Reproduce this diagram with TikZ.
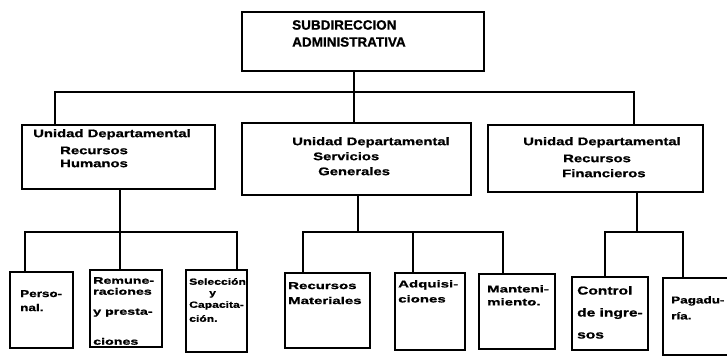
\documentclass[tikz,border=0pt]{standalone}
\usepackage{fontspec}
\setmainfont{Liberation Sans}[FakeBold=1]
\newfontfamily\wfont[FakeStretch=1.35,FakeBold=1]{Liberation Sans}
\newfontfamily\vfont[FakeStretch=1.5,FakeBold=1]{Liberation Sans}
\begin{document}
\begin{tikzpicture}[x=1pt,y=-1pt,
  box/.style={draw, line width=2.4pt, inner sep=0pt},
  conn/.style={draw, line width=2.4pt, line cap=rect},
  txt/.style={inner sep=0pt, align=left, anchor=north west},
  ttop/.style={txt, font=\bfseries\fontsize{13.5}{17}\selectfont},
  tmid/.style={txt, font=\wfont\bfseries\fontsize{11}{15}\selectfont},
  tlow/.style={txt, font=\wfont\bfseries\fontsize{10}{14}\selectfont},
  twide/.style={txt, font=\vfont\bfseries\fontsize{10}{15}\selectfont}]
\useasboundingbox (0,0) rectangle (727,363);
\fill[white] (0,0) rectangle (727,363);

% boxes
\node[box, minimum width=242pt, minimum height=59pt] (top) at (363,41.5) {};
\node[box, minimum width=193pt, minimum height=64pt] (rh) at (118.5,157) {};
\node[box, minimum width=229pt, minimum height=72pt] (sg) at (356.5,159) {};
\node[box, minimum width=215pt, minimum height=67pt] (rf) at (595.5,158.5) {};

\node[box, minimum width=63pt, minimum height=76pt] (per) at (41.5,310) {};
\node[box, minimum width=72pt, minimum height=77pt] (rem) at (126,308.5) {};
\node[box, minimum width=61pt, minimum height=82pt] (sel) at (216.5,311) {};
\node[box, minimum width=85pt, minimum height=75pt] (rm) at (327.5,310.5) {};
\node[box, minimum width=70pt, minimum height=77pt] (adq) at (430,311.5) {};
\node[box, minimum width=76pt, minimum height=75pt] (man) at (517,311.5) {};
\node[box, minimum width=76pt, minimum height=73pt] (con) at (610,313.5) {};
\node[box, minimum width=72pt, minimum height=77pt] (pag) at (699,316.5) {};

% texts
\node[ttop] (ttopt) at (292,20) {SUBDIRECCION\\ADMINISTRATIVA};
\node[tmid] (trh) at (33,129) {Unidad Departamental\\[2pt]\hspace*{27pt}Recursos\\[-2pt]\hspace*{27pt}Humanos};
\node[tmid] (tsg) at (292,137) {Unidad Departamental\\\hspace*{21pt}Servicios\\\hspace*{26pt}Generales};
\node[tmid] (trf) at (523,137) {Unidad Departamental\\[2pt]\hspace*{40pt}Recursos\\\hspace*{39pt}Financieros};

\node[tlow] (tper) at (20,290) {Perso-\\nal.};
\node[twide, font=\vfont\bfseries\fontsize{9.5}{11}\selectfont] (trem) at (93,277) {Remune-\\raciones\\[9pt]y presta-\\[19pt]ciones};
\node[tlow, font=\wfont\bfseries\fontsize{9}{11}\selectfont] (tsel) at (189,278) {Selección\\\hspace*{20pt}y\\[1pt]Capacita-\\[3pt]ción.};
\node[twide] (trm) at (288,282) {Recursos\\Materiales};
\node[twide] (tadq) at (398,280) {Adquisi-\\ciones};
\node[twide, font=\vfont\bfseries\fontsize{10}{13}\selectfont] (tman) at (487,285) {Manteni-\\miento.};
\node[tlow, font=\wfont\bfseries\fontsize{11.5}{22}\selectfont] (tcon) at (577,286) {Control\\de ingre-\\sos};
\node[tlow, font=\wfont\bfseries\fontsize{10}{16}\selectfont] (tpag) at (671,296) {Pagadu-\\ría.};

% level 1 -> level 2
\coordinate (busC) at (354,92);
\coordinate (busL) at (55,92);
\coordinate (busR) at (634,92);
\path[conn] (top.south -| busC) -- (sg.north -| busC);
\path[conn] (busL |- rh.north) -- (busL) -- (busR) -- (busR |- rf.north);

% RH -> level 3
\coordinate (a1) at (25,232);
\coordinate (a2) at (120,232);
\coordinate (a3) at (237,232);
\path[conn] (a2 |- rh.south) -- (a2 |- rem.north);
\path[conn] (a1 |- per.north) -- (a1) -- (a3) -- (a3 |- sel.north);

% SG -> level 3
\coordinate (s0) at (358,232);
\coordinate (s1) at (303,232);
\coordinate (s2) at (413,232);
\coordinate (s3) at (503,232);
\path[conn] (s0 |- sg.south) -- (s0);
\path[conn] (s1 |- rm.north) -- (s1) -- (s3) -- (s3 |- man.north);
\path[conn] (s2) -- (s2 |- adq.north);

% RF -> level 3
\coordinate (f0) at (637,232);
\coordinate (f1) at (605,232);
\coordinate (f2) at (683,232);
\path[conn] (f0 |- rf.south) -- (f0);
\path[conn] (f1 |- con.north) -- (f1) -- (f2) -- (f2 |- pag.north);
\end{tikzpicture}
\end{document}
